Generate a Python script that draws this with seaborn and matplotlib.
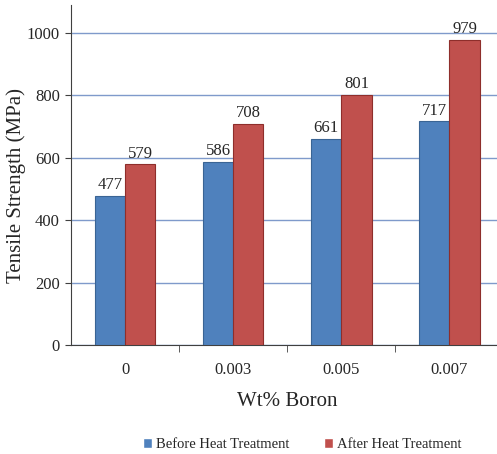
import pandas as pd
import matplotlib.pyplot as plt
import seaborn as sns

# data
boron = ['0', '0.003', '0.005', '0.007']
before_ht = [477, 586, 661, 717]
after_ht = [579, 708, 801, 979]
series = ['Before Heat Treatment', 'After Heat Treatment']

df = pd.DataFrame({
    'boron': boron * 2,
    'strength': before_ht + after_ht,
    'series': [series[0]] * 4 + [series[1]] * 4,
})

sns.set_style('white')
plt.rcParams['font.family'] = ['Liberation Serif', 'DejaVu Serif']

fig = plt.figure(figsize=(4.97, 4.54), dpi=100)
ax = fig.add_axes([0.143, 0.240, 0.87, 0.749])

palette = {series[0]: '#4F81BD', series[1]: '#C0504D'}
sns.barplot(data=df, x='boron', y='strength', hue='series', order=boron,
            hue_order=series, palette=palette, width=0.56, gap=0,
            saturation=1, ax=ax, zorder=3)

edge = {0: '#3A6494', 1: '#8E2E2B'}
for i, cont in enumerate(ax.containers):
    for bar in cont:
        bar.set_edgecolor(edge[i])
        bar.set_linewidth(0.8)
    ax.bar_label(cont, padding=2, fontsize=12)

ax.set_ylim(0, 1090)
ax.set_xlim(-0.5, 3.5)
ax.set_yticks([0, 200, 400, 600, 800, 1000])
ax.yaxis.grid(True, color='#7F9ACB', linewidth=1.0, zorder=0)
ax.set_axisbelow(True)

for s in ['top', 'right']:
    ax.spines[s].set_visible(False)
ax.spines['left'].set_color('#404040')
ax.spines['bottom'].set_color('#404040')

# category boundary ticks on x axis, labels centered
ax.set_xticks([0.5, 1.5, 2.5], minor=True)
ax.tick_params(axis='x', which='major', length=0, pad=12, labelsize=12)
ax.tick_params(axis='x', which='minor', length=5, color='#404040', direction='out')
ax.tick_params(axis='y', length=4, color='#404040', direction='out', labelsize=12, pad=4)
ax.xaxis.set_ticks_position('bottom')
ax.yaxis.set_ticks_position('left')

ax.set_xlabel('Wt% Boron', fontsize=15, labelpad=10)
ax.set_ylabel('Tensile Strength (MPa)', fontsize=15)
ax.yaxis.set_label_coords(-0.105, 0.47)

ax.legend(loc='upper center', bbox_to_anchor=(0.535, -0.235), ncol=2,
          frameon=False, fontsize=10.5, handlelength=0.6, handleheight=0.6,
          handletextpad=0.3, columnspacing=2.4)

fig.savefig('out.png', dpi=100)
